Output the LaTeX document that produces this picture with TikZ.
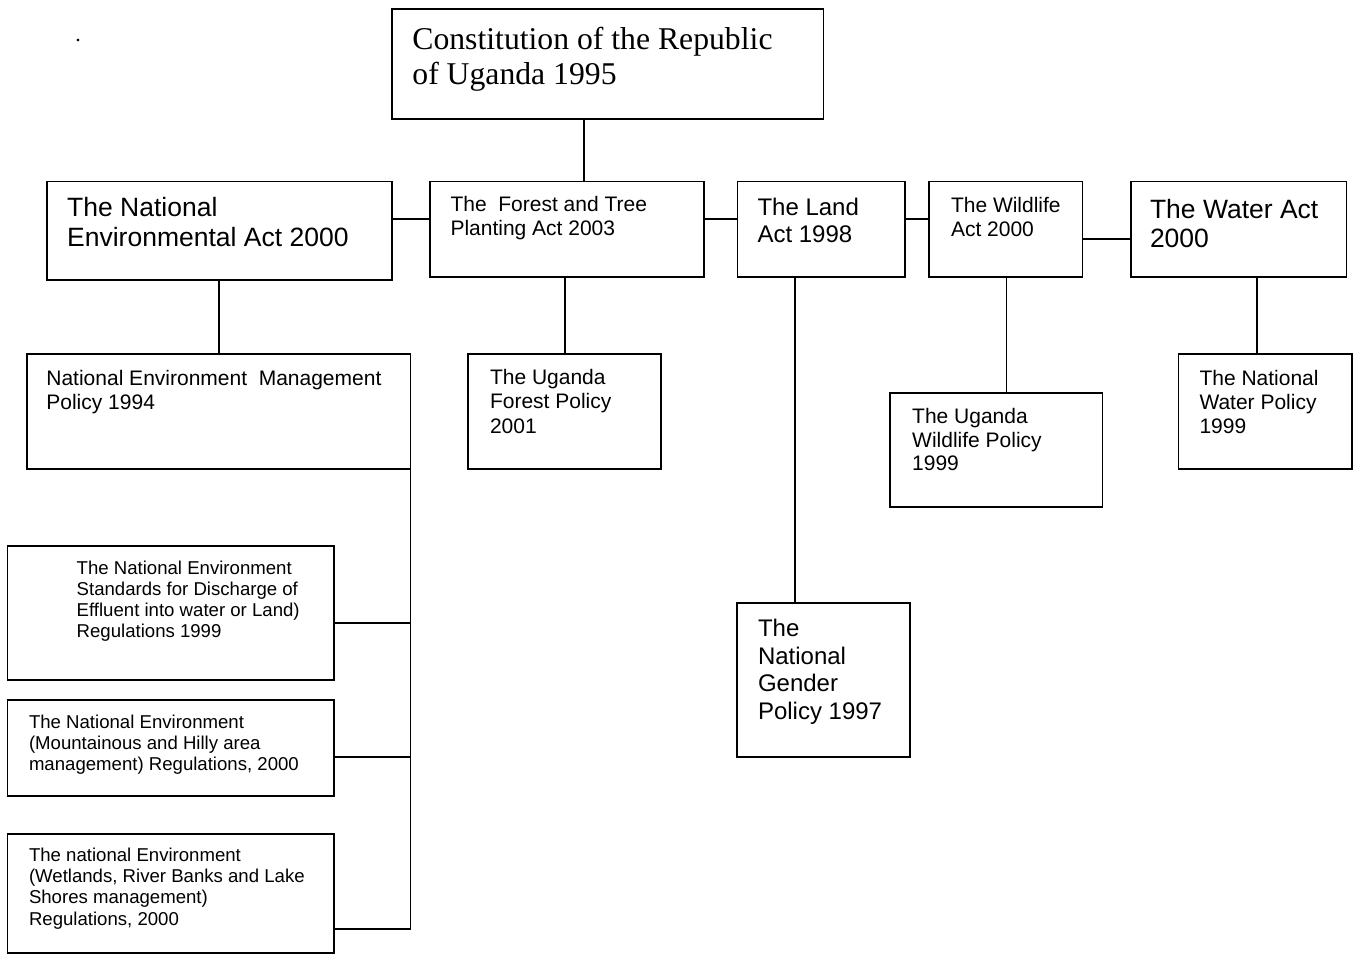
\documentclass[tikz,border=0pt]{standalone}
\usepackage{fontspec}
\setmainfont{Liberation Sans}
\newfontfamily\seriffont{Liberation Serif}
\newcommand\fs[2]{\fontsize{#1pt}{#2pt}\selectfont}
\tikzset{
  box/.style={draw, line width=1.8pt, inner sep=0pt, outer sep=0pt, anchor=north west},
  conn/.style={line width=1.8pt}
}
% name, x1, y1, x2, y2, left pad, first baseline, font, text
\newcommand\bx[9]{%
  \pgfmathsetlengthmacro\bxW{#4-#2}\pgfmathsetlengthmacro\bxH{#5-#3}%
  \node[box,font=#8] (#1) at (#2,#3) {\parbox[c][\bxH][t]{\bxW}{\leftskip=#6pt\parindent=0pt\rule{0pt}{#7pt}#9\par}};}
\begin{document}
\begin{tikzpicture}[x=1pt,y=-1pt]
\useasboundingbox (0,0) rectangle (1358,954);
\node[inner sep=0pt, font=\seriffont\fs{22}{24}] (dot) at (78,40.5) {.};
\bx{const}{392}{9}{823.5}{119.3}{20.4}{40.3}{\seriffont\fs{31.7}{35.5}}{Constitution of the Republic\\of Uganda 1995}
\bx{nea}{46.6}{181.5}{391.7}{280}{20.6}{35.2}{\fs{26.5}{30}}{The National\\Environmental Act 2000}
\bx{forest}{430}{181.5}{703.6}{276.7}{20.5}{30.2}{\fs{21}{24}}{The\ \ Forest and Tree\\Planting Act 2003}
\bx{land}{737.5}{181.5}{905}{277}{20}{33.5}{\fs{24}{27.7}}{The Land\\Act 1998}
\bx{wild}{929}{181.5}{1082.5}{277}{22}{31.2}{\fs{21}{24}}{The Wildlife\\Act 2000}
\bx{water}{1131}{181.5}{1346.5}{277}{19}{36.8}{\fs{26.5}{29}}{The Water Act\\2000}
\bx{nemp}{27}{354}{410.5}{468.7}{19.4}{31.5}{\fs{21}{23.5}}{National Environment\ \ Management\\Policy 1994}
\bx{fpol}{468.3}{354}{661}{468.7}{21.7}{30.5}{\fs{21}{24.4}}{The Uganda\\Forest Policy\\2001}
\bx{wpol}{890.2}{392.7}{1102.4}{507.3}{22}{30.6}{\fs{21}{23.8}}{The Uganda\\Wildlife Policy\\1999}
\bx{watpol}{1178.5}{354}{1352}{469}{21}{31.3}{\fs{21}{24}}{The National\\Water Policy\\1999}
\bx{gender}{737.2}{603.3}{910.2}{757.3}{20.8}{33.4}{\fs{24}{27.5}}{The\\National\\Gender\\Policy 1997}
\bx{reg1}{7.5}{546}{334.3}{680}{69.2}{28}{\fs{18.6}{21.2}}{The National Environment\\Standards for Discharge of\\Effluent into water or Land)\\Regulations 1999}
\bx{reg2}{7.5}{700}{334.3}{795.7}{21.5}{28.3}{\fs{18.6}{21}}{The National Environment\\(Mountainous and Hilly area\\management) Regulations, 2000}
\bx{reg3}{7.5}{834.3}{334.3}{953}{21.5}{27.4}{\fs{18.6}{21.1}}{The national Environment\\(Wetlands, River Banks and Lake\\Shores management)\\Regulations, 2000}
% helper coordinates
\coordinate (xc) at (584,0);
\coordinate (xf) at (565,0);
\coordinate (xl) at (795,0);
\coordinate (xw) at (1006.5,0);
\coordinate (xa) at (1257,0);
\coordinate (ya) at (0,219.3);
\coordinate (yb) at (0,239.3);
\coordinate (b1) at (0,622.7);
\coordinate (b2) at (0,757.3);
\coordinate (b3) at (0,929.3);
% connectors
\draw[conn] (xc |- const.south) -- (xc |- forest.north);
\draw[conn] (ya -| nea.east) -- (ya -| forest.west);
\draw[conn] (ya -| forest.east) -- (ya -| land.west);
\draw[conn] (ya -| land.east) -- (ya -| wild.west);
\draw[conn] (yb -| wild.east) -- (yb -| water.west);
\draw[conn] (nea.south) -- (nea.south |- nemp.north);
\draw[conn] (xf |- forest.south) -- (xf |- fpol.north);
\draw[conn] (xl |- land.south) -- (xl |- gender.north);
\draw[conn] (xw |- wild.south) -- (xw |- wpol.north);
\draw[conn] (xa |- water.south) -- (xa |- watpol.north);
\draw[conn] (nemp.south east) -- (b3 -| nemp.east) -- (b3 -| reg3.east);
\draw[conn] (b1 -| reg1.east) -- (b1 -| nemp.east);
\draw[conn] (b2 -| reg2.east) -- (b2 -| nemp.east);
\end{tikzpicture}
\end{document}
